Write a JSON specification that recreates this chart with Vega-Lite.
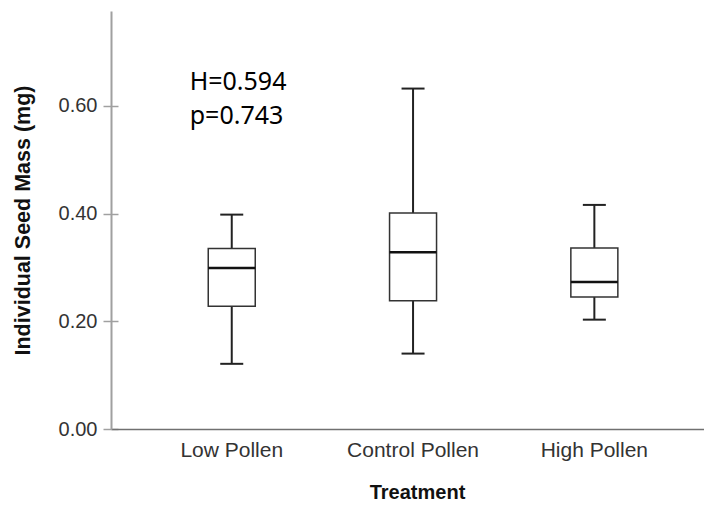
{
  "$schema": "https://vega.github.io/schema/vega-lite/v6.json",
  "width": 593,
  "height": 418,
  "autosize": {"type": "none"},
  "padding": {"left": 111, "top": 11, "right": 0, "bottom": 77},
  "background": "white",
  "config": {
    "view": {"stroke": null},
    "font": "Liberation Sans"
  },
  "datasets": {
    "boxes": [
      {"Treatment": "Low Pollen", "lower": 0.121, "q1": 0.228, "median": 0.299, "q3": 0.335, "upper": 0.398},
      {"Treatment": "Control Pollen", "lower": 0.140, "q1": 0.238, "median": 0.328, "q3": 0.401, "upper": 0.632},
      {"Treatment": "High Pollen", "lower": 0.203, "q1": 0.245, "median": 0.273, "q3": 0.336, "upper": 0.416}
    ],
    "notes": [
      {"Treatment": "Low Pollen", "label": "H=0.594", "y": 0.630},
      {"Treatment": "Low Pollen", "label": "p=0.743", "y": 0.567}
    ]
  },
  "encoding": {
    "x": {
      "field": "Treatment",
      "type": "nominal",
      "sort": ["Low Pollen", "Control Pollen", "High Pollen"],
      "scale": {"type": "band", "paddingInner": 0, "paddingOuter": 0.1354, "align": 0.613},
      "axis": {
        "title": "Treatment",
        "labelAngle": 0,
        "ticks": false,
        "labelPadding": 10,
        "labelFontSize": 21,
        "labelColor": "#333333",
        "titleFontSize": 20,
        "titleFontWeight": "bold",
        "titleColor": "#111111",
        "titlePadding": 22,
        "titleX": 306,
        "domainColor": "#707070",
        "domainWidth": 1.5
      }
    }
  },
  "layer": [
    {
      "data": {"name": "boxes"},
      "mark": {"type": "rule", "color": "#222222", "strokeWidth": 2},
      "encoding": {
        "y": {
          "field": "lower",
          "type": "quantitative",
          "scale": {"domain": [0, 0.776], "nice": false, "zero": true},
          "axis": {
            "title": "Individual Seed Mass (mg)",
            "values": [0, 0.2, 0.4, 0.6],
            "format": ".2f",
            "grid": true,
            "gridColor": "#a0a0a0",
            "gridWidth": 1.5,
            "gridDash": [7, 3000],
            "tickSize": 8,
            "tickColor": "#a0a0a0",
            "tickWidth": 1.5,
            "domainColor": "#a0a0a0",
            "domainWidth": 2,
            "labelPadding": 6,
            "labelFontSize": 20,
            "labelColor": "#333333",
            "titleFontSize": 21.5,
            "titleFontWeight": "bold",
            "titleColor": "#111111",
            "titlePadding": 24
          }
        },
        "y2": {"field": "upper"}
      }
    },
    {
      "data": {"name": "boxes"},
      "mark": {"type": "bar", "width": 47, "fill": "white", "stroke": "#333333", "strokeWidth": 1.5},
      "encoding": {
        "y": {"field": "q1", "type": "quantitative", "scale": {"domain": [0, 0.776], "nice": false, "zero": true}},
        "y2": {"field": "q3"}
      }
    },
    {
      "data": {"name": "boxes"},
      "mark": {"type": "tick", "size": 47, "thickness": 2.5, "color": "#111111", "opacity": 1},
      "encoding": {
        "y": {"field": "median", "type": "quantitative", "scale": {"domain": [0, 0.776], "nice": false, "zero": true}}
      }
    },
    {
      "data": {"name": "boxes"},
      "mark": {"type": "tick", "size": 23, "thickness": 2, "color": "#222222", "opacity": 1},
      "encoding": {
        "y": {"field": "lower", "type": "quantitative", "scale": {"domain": [0, 0.776], "nice": false, "zero": true}}
      }
    },
    {
      "data": {"name": "boxes"},
      "mark": {"type": "tick", "size": 23, "thickness": 2, "color": "#222222", "opacity": 1},
      "encoding": {
        "y": {"field": "upper", "type": "quantitative", "scale": {"domain": [0, 0.776], "nice": false, "zero": true}}
      }
    },
    {
      "data": {"name": "notes"},
      "mark": {"type": "text", "align": "left", "baseline": "alphabetic", "dx": -42, "font": "Noto Sans", "fontSize": 25, "color": "#000000"},
      "encoding": {
        "y": {"field": "y", "type": "quantitative", "scale": {"domain": [0, 0.776], "nice": false, "zero": true}},
        "text": {"field": "label"}
      }
    }
  ]
}
